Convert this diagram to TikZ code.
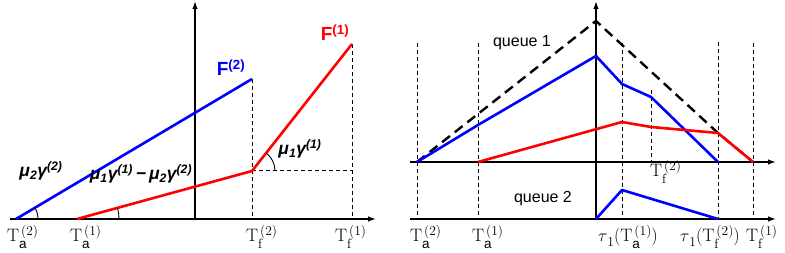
\documentclass[tikz,border=0pt]{standalone}
\usepackage{fontspec}
\setsansfont{Liberation Sans}
\usetikzlibrary{arrows.meta}
\newcommand{\scr}[1]{{\fontsize{13.5}{14}\selectfont #1}}
\newcommand{\Tlab}[2]{T\rlap{\raisebox{-6.5pt}{\scr{#1}}}\raisebox{6.5pt}{\hspace{2pt}\scr{(#2)}}}
\begin{document}
\begin{tikzpicture}[x=1pt,y=1pt,
 axis/.style={line width=1.3pt,-{Latex[length=8pt,width=5.5pt]}},
 guide/.style={line width=1pt, dash pattern=on 4pt off 3pt},
 curveb/.style={blue, line width=2.6pt, line join=round},
 curver/.style={red, line width=2.6pt, line join=round},
 envelope/.style={line width=2.4pt, dash pattern=on 10pt off 6pt},
 tlab/.style={anchor=base west, inner sep=0pt, font=\fontsize{18}{20}\selectfont},
 flab/.style={inner sep=0pt, font=\sffamily\bfseries\fontsize{19}{21}\selectfont},
 mulab/.style={inner sep=0pt, font=\sffamily\bfseries\itshape\fontsize{17.5}{20}\selectfont},
 qlab/.style={inner sep=0pt, font=\sffamily\fontsize{16}{19}\selectfont},
 angarc/.style={line width=0.9pt}]
\useasboundingbox (0,0) rectangle (785,253);

% ---------------- left panel ----------------
\coordinate (LxS) at (10,34);
\coordinate (LxE) at (376,34);
\coordinate (LyS) at (195,34);
\coordinate (LyE) at (195,252);
\coordinate (b0) at (16,34);
\coordinate (b1) at (252,174);
\coordinate (r0) at (77,34);
\coordinate (r1) at (252,82);
\coordinate (r2) at (352,209);
\coordinate (f2b) at (252,34);
\coordinate (f1b) at (352,34);
\coordinate (r1h) at (352,82);

\draw[guide] (b1) -- (f2b);
\draw[guide] (r2) -- (f1b);
\draw[guide] (r1) -- (r1h);
\draw[axis] (LxS) -- (LxE);
\draw[axis] (LyS) -- (LyE);
\draw[curveb] (b0) -- (b1);
\draw[curver] (r0) -- (r1) -- (r2);
\draw[angarc] (b0) ++(0:22) arc[start angle=0, end angle=30.7, radius=22];
\draw[angarc] (r0) ++(0:42) arc[start angle=0, end angle=15.3, radius=42];
\draw[angarc] (r1) ++(0:23) arc[start angle=0, end angle=51.8, radius=23];

\node[flab, blue] (F2) at (231,185) {F\textsuperscript{(2)}};
\node[flab, red] (F1) at (335,220) {F\textsuperscript{(1)}};
\node[mulab] (m2) at (41,82) {μ\textsubscript{2}γ\textsuperscript{(2)}};
\node[mulab] (m12) at (141,79) {μ\textsubscript{1}γ\textsuperscript{(1)}\,−\,μ\textsubscript{2}γ\textsuperscript{(2)}};
\node[mulab] (m1) at (300,104) {μ\textsubscript{1}γ\textsuperscript{(1)}};

\node[tlab] (lTa2) at (7,11) {\Tlab{\textsf{a}}{2}};
\node[tlab] (lTa1) at (70,11) {\Tlab{\textsf{a}}{1}};
\node[tlab] (lTf2) at (246,11) {\Tlab{f}{2}};
\node[tlab] (lTf1) at (335,11) {\Tlab{f}{1}};

% ---------------- right panel ----------------
\coordinate (RuS) at (410,91);
\coordinate (RuE) at (776,91);
\coordinate (RlS) at (410,34);
\coordinate (RlE) at (776,34);
\coordinate (RyS) at (596,34);
\coordinate (RyE) at (596,252);

\coordinate (v1t) at (417,210); \coordinate (v1b) at (417,34);
\coordinate (v2t) at (478,210); \coordinate (v2b) at (478,34);
\coordinate (v3t) at (622,210); \coordinate (v3b) at (622,34);
\coordinate (v4t) at (651,163); \coordinate (v4b) at (651,91);
\coordinate (v5t) at (718,211); \coordinate (v5b) at (718,34);
\coordinate (v6t) at (753,210); \coordinate (v6b) at (753,34);

\foreach \i in {1,...,6} {\draw[guide] (v\i t) -- (v\i b);}

\draw[axis] (RuS) -- (RuE);
\draw[axis] (RlS) -- (RlE);
\draw[axis] (RyS) -- (RyE);

\coordinate (e0) at (417,91);
\coordinate (e1) at (596,232);
\coordinate (e2) at (718,120);
\coordinate (e3) at (753,91);
\draw[envelope] (e0) -- (e1) -- (e2) -- (e3);

\coordinate (q0) at (417,91);
\coordinate (q1) at (478,128);
\coordinate (q2) at (596,197);
\coordinate (q3) at (622,169);
\coordinate (q4) at (651,156);
\coordinate (q5) at (718,91);
\draw[curveb] (q0) -- (q1) -- (q2) -- (q3) -- (q4) -- (q5);

\coordinate (p0) at (478,91);
\coordinate (p1) at (622,131);
\coordinate (p2) at (651,126);
\coordinate (p3) at (718,120);
\coordinate (p4) at (753,91);
\draw[curver] (p0) -- (p1) -- (p2) -- (p3) -- (p4);

\coordinate (s0) at (596,34);
\coordinate (s1) at (622,63);
\coordinate (s2) at (718,34);
\draw[curveb] (s0) -- (s1) -- (s2);

\node[qlab] (qa) at (522,210) {queue 1};
\node[qlab] (qb) at (543,54) {queue 2};

\node[tlab] (rTf2u) at (650,76) {\Tlab{f}{2}};
\node[tlab] (rTa2) at (410,11) {\Tlab{\textsf{a}}{2}};
\node[tlab] (rTa1) at (472,11) {\Tlab{\textsf{a}}{1}};
\node[tlab] (rtau1) at (598,11) {$\tau$\raisebox{-5pt}{\scr{1}}(\Tlab{\textsf{a}}{1})};
\node[tlab] (rtau2) at (680,11) {$\tau$\raisebox{-5pt}{\scr{1}}(\Tlab{f}{2})};
\node[tlab] (rTf1) at (746,11) {\Tlab{f}{1}};
\end{tikzpicture}
\end{document}
